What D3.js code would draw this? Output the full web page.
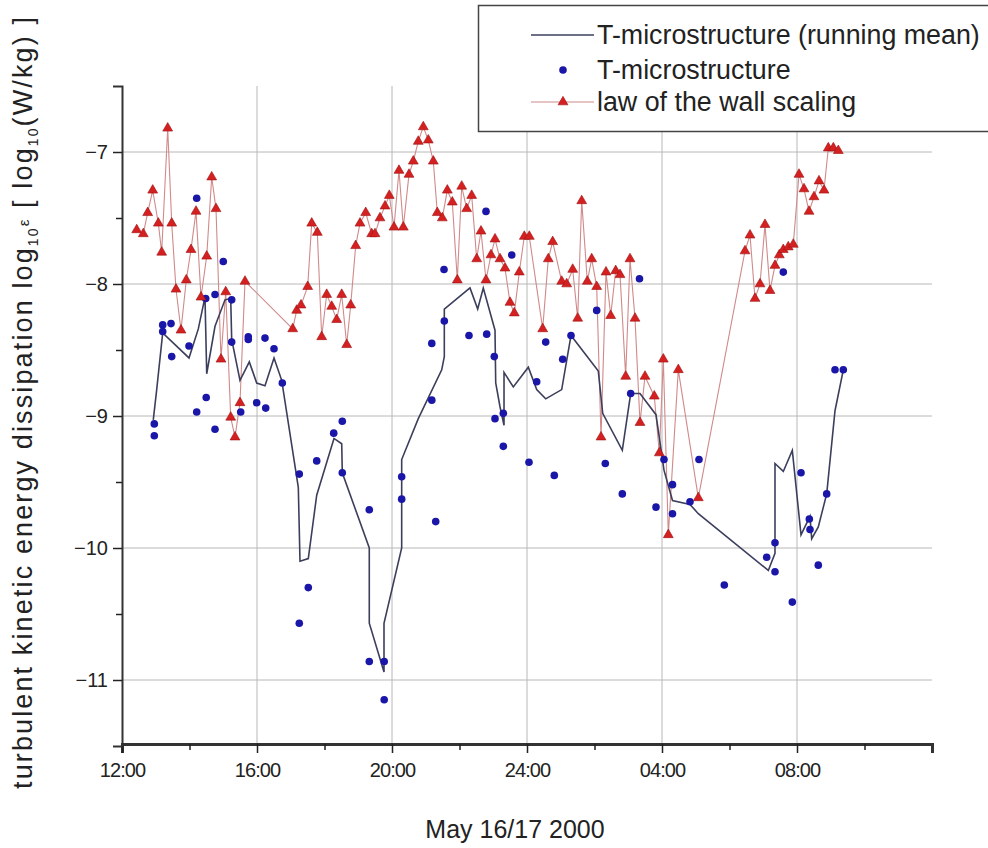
<!DOCTYPE html>
<html><head><meta charset="utf-8">
<script src="https://cdn.jsdelivr.net/npm/d3@7"></script>
<style>body{margin:0;background:#fff}svg{display:block;font-family:"Liberation Sans",Arial,sans-serif}</style>
</head><body>
<svg id="c" width="988" height="848"></svg>
<script>
// time = hours since 12:00 on May 16
const wallTime = [0.436,0.631,0.761,0.910,1.076,1.176,1.354,1.473,1.600,1.748,1.905,2.044,2.193,2.341,2.510,2.658,2.785,2.933,3.073,3.221,3.348,3.496,3.644,5.058,5.176,5.304,5.502,5.621,5.787,5.917,6.065,6.213,6.361,6.510,6.658,6.776,6.924,7.052,7.221,7.399,7.496,7.644,7.793,7.920,8.059,8.207,8.335,8.504,8.631,8.779,8.927,9.075,9.224,9.342,9.490,9.639,9.787,9.935,10.065,10.213,10.361,10.510,10.637,10.785,10.933,11.052,11.200,11.348,11.496,11.624,11.772,11.920,12.068,12.465,12.631,12.761,13.028,13.176,13.354,13.502,13.621,13.787,13.917,14.065,14.193,14.341,14.480,14.628,14.756,14.924,15.052,15.200,15.348,15.496,15.772,15.920,16.039,16.187,16.483,17.076,18.459,18.607,18.756,18.904,19.052,19.200,19.348,19.476,19.594,19.742,19.890,20.059,20.207,20.356,20.504,20.652,20.800,20.928,21.076,21.224];
const wallValue = [-7.59,-7.62,-7.46,-7.29,-7.54,-7.76,-6.82,-7.54,-8.04,-8.35,-7.97,-7.74,-7.45,-8.10,-7.79,-7.19,-7.43,-8.57,-8.06,-9.01,-9.16,-8.90,-7.98,-8.34,-8.20,-8.16,-8.02,-7.54,-7.61,-8.40,-8.08,-8.17,-8.27,-8.08,-8.46,-8.16,-7.71,-7.54,-7.46,-7.62,-7.62,-7.50,-7.41,-7.33,-7.57,-7.14,-7.57,-7.17,-7.07,-6.92,-6.81,-6.91,-7.07,-7.46,-7.50,-7.29,-7.38,-7.97,-7.26,-7.43,-7.33,-7.81,-7.60,-7.97,-7.78,-7.66,-7.81,-7.88,-8.14,-8.22,-7.91,-7.64,-7.64,-8.34,-7.81,-7.68,-7.98,-8.00,-7.89,-8.26,-7.37,-7.98,-7.81,-8.02,-9.16,-7.91,-8.24,-7.90,-7.93,-8.70,-7.81,-8.26,-9.05,-8.70,-8.85,-9.28,-8.57,-9.90,-8.65,-9.62,-7.75,-7.63,-8.11,-8.00,-7.55,-8.05,-7.86,-7.78,-7.74,-7.72,-7.70,-7.17,-7.28,-7.45,-7.34,-7.22,-7.29,-6.97,-6.97,-6.99];

const microTime = [0.957,0.957,1.206,1.206,1.452,1.473,1.985,2.213,2.213,2.480,2.495,2.756,2.756,3.001,3.250,3.250,3.517,3.742,3.742,3.991,4.237,4.258,4.504,4.750,5.253,5.253,5.520,5.769,6.273,6.527,6.527,7.327,7.327,7.769,7.769,8.287,8.287,9.179,9.179,9.295,9.541,9.550,10.281,10.785,10.806,11.031,11.052,11.298,11.298,11.547,12.059,12.287,12.554,12.809,13.058,13.304,14.065,14.320,14.824,15.072,15.333,15.822,16.059,16.311,16.311,16.830,17.096,17.846,19.102,19.348,19.348,19.594,19.861,20.119,20.365,20.385,20.631,20.880,21.126,21.372];
const microValue = [-9.06,-9.15,-8.31,-8.36,-8.30,-8.55,-8.47,-7.35,-8.97,-8.11,-8.86,-8.08,-9.10,-7.83,-8.12,-8.44,-8.97,-8.40,-8.42,-8.90,-8.41,-8.94,-8.49,-8.75,-9.44,-10.57,-10.30,-9.34,-9.13,-9.04,-9.43,-9.71,-10.86,-10.86,-11.15,-9.46,-9.63,-8.45,-8.88,-9.80,-7.89,-8.28,-8.39,-7.45,-8.38,-8.55,-9.02,-8.98,-9.23,-7.78,-9.35,-8.74,-8.44,-9.45,-8.57,-8.39,-8.20,-9.36,-9.59,-8.83,-7.96,-9.69,-9.33,-9.52,-9.74,-9.65,-9.33,-10.28,-10.07,-9.96,-10.18,-7.91,-10.41,-9.43,-9.78,-9.86,-10.13,-9.59,-8.65,-8.65];

const meanTime = [0.927,1.028,1.206,1.985,2.261,2.459,2.510,2.756,3.052,3.221,3.250,3.496,3.772,3.991,4.237,4.504,4.732,5.224,5.274,5.520,5.769,6.281,6.510,6.527,7.327,7.327,7.763,7.763,8.287,8.287,8.779,9.473,9.550,9.550,10.311,10.539,10.705,11.052,11.073,11.200,11.319,11.319,11.594,12.039,12.287,12.554,13.028,13.304,14.113,14.243,14.824,15.072,15.348,15.822,16.059,16.311,16.830,17.076,19.150,19.348,19.348,19.594,19.861,20.119,20.385,20.435,20.631,20.880,21.126,21.372];
const meanValue = [-9.03,-8.80,-8.37,-8.56,-8.34,-8.10,-8.68,-8.32,-8.12,-8.11,-8.42,-8.73,-8.59,-8.75,-8.77,-8.56,-8.73,-9.54,-10.10,-10.08,-9.60,-9.17,-9.21,-9.43,-10.00,-10.57,-10.94,-10.57,-10.00,-9.33,-9.02,-8.65,-8.55,-8.19,-8.03,-8.19,-8.03,-8.35,-8.75,-8.93,-9.07,-8.67,-8.78,-8.63,-8.80,-8.87,-8.80,-8.39,-8.66,-8.98,-9.26,-8.83,-8.83,-8.99,-9.41,-9.64,-9.67,-9.74,-10.17,-10.04,-9.36,-9.42,-9.26,-9.90,-9.76,-9.93,-9.84,-9.59,-8.96,-8.65];

const xTickValues = [0,4,8,12,16,20];
const xTickLabels = ["12:00","16:00","20:00","24:00","04:00","08:00"];
const yTickValues = [-7,-8,-9,-10,-11];
const seriesNames = ["T-microstructure (running mean)","T-microstructure","law of the wall scaling"];

const svg = d3.select("#c");
const x = d3.scaleLinear().domain([0,24]).range([122,932]);
const y = d3.scaleLinear().domain([-11.5,-6.5]).range([746,86]);

const gridColor = "#b8b8b8";
// grid
svg.append("g").selectAll("line").data(yTickValues).join("line")
  .attr("x1",x(0)).attr("x2",x(24)).attr("y1",d=>y(d)).attr("y2",d=>y(d))
  .attr("stroke",gridColor).attr("stroke-width",1);
svg.append("g").selectAll("line").data(xTickValues.slice(1)).join("line")
  .attr("x1",d=>x(d)).attr("x2",d=>x(d)).attr("y1",y(-6.5)).attr("y2",y(-11.5))
  .attr("stroke",gridColor).attr("stroke-width",1);

// axes
const xAxis = d3.axisBottom(x).tickValues(xTickValues).tickFormat((d,i)=>xTickLabels[i]).tickSize(9).tickPadding(10);
const gx = svg.append("g").attr("transform",`translate(0,${y(-11.5)-2})`).call(xAxis);
gx.select(".domain").attr("stroke","#333").attr("stroke-width",3);
gx.selectAll(".tick line").attr("stroke","#222").attr("stroke-width",1.5);
gx.selectAll("text").attr("font-size",20).attr("fill","#222").attr("letter-spacing","-0.9px");
const gxm = svg.append("g").attr("transform",`translate(0,${y(-11.5)-2})`)
  .call(d3.axisBottom(x).tickValues([2,6,10,14,18,22]).tickFormat("").tickSize(6));
gxm.select(".domain").remove();
gxm.selectAll(".tick line").attr("stroke","#222").attr("stroke-width",1.5);

const yAxis = d3.axisLeft(y).tickValues(yTickValues).tickFormat(d3.format("d")).tickSize(9).tickPadding(5);
const gy = svg.append("g").attr("transform",`translate(${x(0)},0)`).call(yAxis);
gy.select(".domain").attr("stroke","#333").attr("stroke-width",2);
gy.selectAll(".tick line").attr("stroke","#222").attr("stroke-width",1.5);
gy.selectAll("text").attr("font-size",20).attr("fill","#222");
const gym = svg.append("g").attr("transform",`translate(${x(0)},0)`)
  .call(d3.axisLeft(y).tickValues([-7.5,-8.5,-9.5,-10.5]).tickFormat("").tickSize(6));
gym.select(".domain").remove();
gym.selectAll(".tick line").attr("stroke","#222").attr("stroke-width",1.5);

// titles
svg.append("text").attr("x",515).attr("y",838).attr("text-anchor","middle")
  .attr("font-size",25).attr("fill","#222").text("May 16/17 2000");
const yt = svg.append("text").attr("transform","translate(32,403) rotate(-90)")
  .attr("text-anchor","middle").attr("font-size",27).attr("fill","#222")
  .attr("textLength",772).attr("lengthAdjust","spacing");
yt.append("tspan").text("turbulent kinetic energy dissipation log");
yt.append("tspan").attr("font-size",14).attr("dy",6).text("10");
yt.append("tspan").attr("font-size",15).attr("dy",-9).text("ε");
yt.append("tspan").attr("dy",3).text("   [ log");
yt.append("tspan").attr("font-size",14).attr("dy",6).text("10");
yt.append("tspan").attr("dy",-6).text("(W/kg) ]");

// series
const wall = wallTime.map((t,i)=>({t,v:wallValue[i]}));
const micro = microTime.map((t,i)=>({t,v:microValue[i]}));
const mean = meanTime.map((t,i)=>({t,v:meanValue[i]}));
const line = d3.line().x(d=>x(d.t)).y(d=>y(d.v));

svg.append("path").datum(wall).attr("d",line).attr("fill","none")
  .attr("stroke","#d08a8a").attr("stroke-width",1.1);
svg.append("path").datum(mean).attr("d",line).attr("fill","none")
  .attr("stroke","#3c3f5c").attr("stroke-width",1.6);
svg.append("g").selectAll("circle").data(micro).join("circle")
  .attr("cx",d=>x(d.t)).attr("cy",d=>y(d.v)).attr("r",3.8).attr("fill","#1a16a8");
const tri = d3.symbol().type(d3.symbolTriangle).size(42);
svg.append("g").selectAll("path").data(wall).join("path")
  .attr("d",tri).attr("transform",d=>`translate(${x(d.t)},${y(d.v)})`)
  .attr("fill","#d42020").attr("stroke","#a01010").attr("stroke-width",0.6);

// legend
const lg = svg.append("g");
lg.append("rect").attr("x",478.5).attr("y",5.5).attr("width",520).attr("height",126)
  .attr("fill","#fff").attr("stroke","#444").attr("stroke-width",1.5);
const rows = [35,70,102];
lg.append("line").attr("x1",531).attr("x2",594).attr("y1",rows[0]).attr("y2",rows[0]).attr("stroke","#3c3f5c").attr("stroke-width",1.6);
lg.append("circle").attr("cx",563).attr("cy",rows[1]).attr("r",3.8).attr("fill","#1a16a8");
lg.append("line").attr("x1",531).attr("x2",594).attr("y1",rows[2]).attr("y2",rows[2]).attr("stroke","#d08a8a").attr("stroke-width",1.1);
lg.append("path").attr("d",tri).attr("transform",`translate(563,${rows[2]})`).attr("fill","#d42020").attr("stroke","#a01010").attr("stroke-width",0.6);
lg.selectAll("text").data(seriesNames).join("text")
  .attr("x",597).attr("y",(d,i)=>rows[i]+9).attr("font-size",26.8).attr("fill","#222").text(d=>d);
</script>
</body></html>
